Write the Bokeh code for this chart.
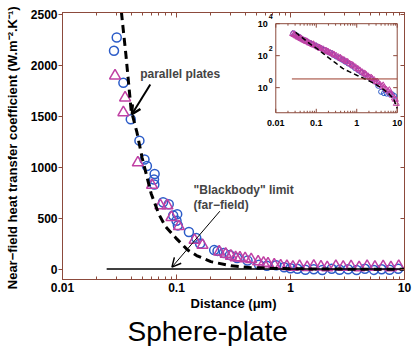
import math

from bokeh.core.properties import value
from bokeh.embed import file_html
from bokeh.models import (Arrow, CustomJSTickFormatter, FixedTicker, Label,
                          LinearAxis, LogAxis, LogScale, OpenHead, Range1d, Title)
from bokeh.plotting import figure
from bokeh.resources import INLINE

# ---------------------------------------------------------------- data
# sphere-plate measurements, main panel (distance in um, h in W m^-2 K^-1)
circ_d = [0.0283, 0.0299, 0.0342, 0.0397, 0.0473, 0.0524, 0.0550, 0.0643, 0.0635,
          0.0639, 0.0762, 0.0855, 0.0935, 0.1014, 0.100, 0.1028, 0.1285, 0.149,
          0.161, 0.214, 0.229, 0.26, 0.294, 0.34, 0.42, 0.53, 0.62, 0.75, 0.88,
          1.0, 1.15, 1.35, 1.6, 1.9, 2.3, 2.7, 3.2, 3.8, 4.5, 5.4, 6.3, 7.4, 8.8]
circ_h = [2140, 2270, 1826, 1470, 1260, 1076, 1012, 934, 880,
          830, 656, 637, 527, 540, 475, 430, 365, 307,
          252, 188, 180, 160, 139, 110, 85, 45, 35, 40, 20,
          10, 5, -5, 0, -8, 5, -5, 0, -8, 5, -6, 0, -5, 5]

tri_d = [0.0289, 0.0342, 0.0354, 0.0458, 0.061, 0.0722, 0.0832, 0.0903, 0.105,
         0.144, 0.169, 0.237, 0.27, 0.30, 0.33, 0.36, 0.40, 0.452, 0.52, 0.58,
         0.635, 0.72, 0.82, 0.93, 1.05, 1.2, 1.4, 1.6, 1.85, 2.1, 2.5, 2.9, 3.4,
         4.0, 4.7, 5.5, 6.5, 7.6, 8.9]
tri_h = [1896, 1535, 1680, 1044, 824, 624, 624, 510, 420,
         285, 236, 171, 150, 130, 115, 113, 105, 97, 75, 62,
         55, 45, 35, 30, 22, 30, 20, 32, 25, 18, 30, 22, 28,
         18, 30, 22, 28, 18, 30]

# parallel-plates prediction (dashed)
pp_d = [0.031, 0.033, 0.036, 0.04, 0.045, 0.05, 0.06, 0.07, 0.08, 0.1, 0.125, 0.15,
        0.2, 0.3, 0.45, 0.65, 1.0, 1.6, 2.6, 4.0, 6.0, 8.2, 10]
pp_h = [2900, 2500, 2100, 1560, 1340, 1090, 740, 540, 420, 300, 190, 135,
        75, 35, 16, 10, 6, 3.5, 1.9, 1.0, 0.45, 0.19, 0.05]

# blackbody (far-field) limit
BLACKBODY_H = 3.5
bb_d = [0.0244, 10]
inset_bb_d = [0.025, 10]

# inset (log-log) measurements
inset_tri_d = [0.026, 0.028, 0.029, 0.030, 0.032, 0.034, 0.036, 0.039, 0.041, 0.042,
               0.045, 0.049, 0.053, 0.057, 0.058, 0.062, 0.068, 0.075, 0.082, 0.085,
               0.09, 0.1, 0.11, 0.12, 0.125, 0.135, 0.15, 0.165, 0.18, 0.19, 0.2,
               0.22, 0.25, 0.27, 0.28, 0.31, 0.35, 0.39, 0.4, 0.43, 0.48, 0.53,
               0.57, 0.6, 0.67, 0.75, 0.8, 0.84, 0.94, 1.05, 1.1, 1.2, 1.35, 1.5,
               1.6, 1.7, 1.9, 2.1, 2.3, 2.4, 2.7, 3.0, 3.2, 3.4, 3.8, 4.3, 4.5, 4.8,
               5.4, 6.0, 6.4, 6.8, 7.6, 8.5, 9.0, 9.5]
inset_tri_h = [2350, 2050, 2200, 1900, 1700, 1600, 1400, 1300, 1250, 1150,
               1050, 920, 850, 760, 800, 700, 600, 560, 480, 520,
               440, 400, 340, 320, 290, 270, 250, 210, 200, 180, 170,
               150, 135, 120, 110, 100, 82, 75, 68, 60, 55, 45,
               42, 40, 32, 28, 25, 22, 19, 15, 14, 12, 9.5, 8,
               7.5, 6.5, 5.2, 4.4, 4.2, 3.6, 3.0, 2.3, 2.4, 2.0, 1.5, 1.2, 1.4, 1.0,
               0.75, 0.6, 0.7, 0.45, 0.32, 0.22, 0.18, 0.1]

inset_circ_d = [0.027, 0.03, 0.034, 0.038, 0.043, 0.05, 0.058, 0.068, 0.08, 0.095,
                0.11, 0.13, 0.155, 0.185, 0.22, 0.26, 0.31, 0.37, 0.44, 0.52, 0.62,
                0.75, 0.9, 1.1, 1.3, 1.6, 1.9, 2.3, 2.8, 3.4, 4.0, 4.7, 5.5, 6.5,
                7.5, 8.5]
inset_circ_h = [2500, 2100, 1750, 1450, 1150, 950, 780, 640, 520, 430,
                360, 290, 230, 185, 150, 115, 90, 70, 55, 42, 32,
                24, 17, 12, 9, 6.5, 4.8, 3.4, 2.4, 1.3, 0.55, 0.45, 0.42, 0.40,
                0.38, 0.30]

# axes
X_TICKS = [0.01, 0.1, 1, 10]
X_TICK_LABELS = ["0.01", "0.1", "1", "10"]
Y_TICKS = [0, 500, 1000, 1500, 2000, 2500]
INSET_Y_TICKS = [1, 100, 10000]
INSET_Y_EXP = ["0", "2", "4"]

# ---------------------------------------------------------------- style / layout
W, H = 412, 346
B_LEFT, B_RIGHT, B_TOP, B_BOTTOM = 62, 8, 12, 64
FRAME_W = W - B_LEFT - B_RIGHT
FRAME_H = H - B_TOP - B_BOTTOM

BROWN = "#8c4a3c"
INSET_LINE = "#9b3b2b"
BLUE = "#2c5cc8"
MAGENTA = "#c040a4"
FONT = "Liberation Sans"

# inset coordinate system spread over the whole frame (log-log)
INSET_XR = (10 ** -7.27, 10 ** 1.18)
INSET_YR = (10 ** -12.0, 10 ** 4.70)
INSET_XLIM = (0.01, 10)
INSET_YLIM = (10 ** -1.57, 1e4)
PPD_X = FRAME_W / (math.log10(INSET_XR[1]) - math.log10(INSET_XR[0]))
PPD_Y = FRAME_H / (math.log10(INSET_YR[1]) - math.log10(INSET_YR[0]))


def shift_x(v, px):
    return v * 10 ** (px / PPD_X)


def shift_y(v, px):
    return v * 10 ** (px / PPD_Y)


minor_x = [m * 10 ** e for e in (-2, -1, 0) for m in range(2, 10)]

p = figure(width=W, height=H, x_axis_type="log",
           x_range=Range1d(0.01, 10), y_range=Range1d(-100, 2515),
           output_backend="svg", toolbar_location=None,
           min_border_left=B_LEFT, min_border_right=B_RIGHT,
           min_border_top=B_TOP, min_border_bottom=B_BOTTOM,
           background_fill_color="white", border_fill_color="white")
p.title.visible = False
p.xgrid.visible = False
p.ygrid.visible = False
p.outline_line_color = BROWN
p.outline_line_width = 1

x_ticker = FixedTicker(ticks=X_TICKS, minor_ticks=minor_x)
x_fmt = CustomJSTickFormatter(
    args=dict(tick_values=X_TICKS, tick_labels=X_TICK_LABELS),
    code="const i = tick_values.findIndex(t => Math.abs(t - tick) < 1e-6 * t); "
         "return i >= 0 ? tick_labels[i] : '';")

xa = p.xaxis[0]
xa.ticker = x_ticker
xa.formatter = x_fmt
xa.axis_label = "Distance (\u03bcm)"
ya = p.yaxis[0]
ya.ticker = FixedTicker(ticks=Y_TICKS)
ya.axis_label = "Near\u2212field heat transfer  coefficient (W.m\u207b\u00b2.K\u207b\u00b9)"

for ax in (xa, ya):
    ax.axis_line_color = BROWN
    ax.major_tick_line_color = BROWN
    ax.minor_tick_line_color = BROWN
    ax.major_label_text_font = FONT
    ax.major_label_text_font_style = "bold"
    ax.major_label_text_font_size = "12px"
    ax.major_label_text_color = "black"
    ax.axis_label_text_font = FONT
    ax.axis_label_text_font_style = "bold"
    ax.axis_label_text_color = "black"

xa.major_tick_in, xa.major_tick_out = 5, 0
xa.minor_tick_in, xa.minor_tick_out = 3, 0
xa.major_label_standoff = 3
xa.axis_label_standoff = 1
xa.axis_label_text_font_size = "13px"

ya.major_tick_in, ya.major_tick_out = 0, 4
ya.minor_tick_in, ya.minor_tick_out = 0, 0
ya.major_label_standoff = 1
ya.axis_label_standoff = 8
ya.axis_label_text_font_size = "13px"

# mirrored axes on top and right: ticks only
top = LogAxis(ticker=x_ticker, major_tick_in=5, major_tick_out=0, minor_tick_in=3,
              minor_tick_out=0, major_label_text_font_size="1px",
              major_label_text_color=None, major_label_standoff=0,
              axis_line_color=BROWN, major_tick_line_color=BROWN,
              minor_tick_line_color=BROWN)
p.add_layout(top, "above")
right = LinearAxis(ticker=FixedTicker(ticks=Y_TICKS), major_tick_in=4, major_tick_out=0,
                   minor_tick_in=0, minor_tick_out=0, major_label_text_font_size="1px",
                   major_label_text_color=None, major_label_standoff=0,
                   axis_line_color=BROWN, major_tick_line_color=BROWN)
p.add_layout(right, "right")

p.add_layout(Title(text="Sphere-plate", align="left", offset=65, standoff=0,
                   text_font=FONT, text_font_style="normal", text_font_size="28px",
                   text_color="black"), "below")

# ---------------------------------------------------------------- main panel
p.scatter(circ_d, circ_h, marker="circle", size=9, fill_color=None,
          line_color=BLUE, line_width=1.5)
p.scatter(tri_d, tri_h, marker="triangle", size=11, fill_color=None,
          line_color=MAGENTA, line_width=1.5)
p.line(pp_d, pp_h, line_color="black", line_width=3, line_dash="8 5")
p.line(bb_d, [BLACKBODY_H] * len(bb_d), line_color="black", line_width=1.5)

# annotations
PP_TEXT = (0.048, 1916)
PP_ARROW = (0.0589, 1809, 0.0406, 1518)
BB_TEXT = [(0.1413, 775, '"Blackbody" limit'), (0.1413, 630, "(far\u2212field)")]
BB_ARROW = (0.240, 569, 0.0912, 21)

p.add_layout(Label(x=PP_TEXT[0], y=PP_TEXT[1], text="parallel plates",
                   text_font=FONT, text_font_style="bold", text_font_size="12px",
                   text_baseline="middle", text_align="left"))
p.add_layout(Arrow(x_start=PP_ARROW[0], y_start=PP_ARROW[1],
                   x_end=PP_ARROW[2], y_end=PP_ARROW[3], line_width=2,
                   end=OpenHead(size=9, line_width=2.5)))
for bx, by, bt in BB_TEXT:
    p.add_layout(Label(x=bx, y=by, text=bt, text_font=FONT, text_font_style="bold",
                       text_font_size="12px", text_baseline="middle", text_align="left"))
p.add_layout(Arrow(x_start=BB_ARROW[0], y_start=BB_ARROW[1],
                   x_end=BB_ARROW[2], y_end=BB_ARROW[3], line_width=1,
                   end=OpenHead(size=9, line_width=1.5)))

# ---------------------------------------------------------------- inset (log-log)
p.extra_x_ranges = {"ix": Range1d(*INSET_XR)}
p.extra_y_ranges = {"iy": Range1d(*INSET_YR)}
p.extra_x_scales = {"ix": LogScale()}
p.extra_y_scales = {"iy": LogScale()}
IN = dict(x_range_name="ix", y_range_name="iy")

p.quad(left=[INSET_XLIM[0]], right=[INSET_XLIM[1]], bottom=[INSET_YLIM[0]],
       top=[INSET_YLIM[1]], fill_color="white", line_color=BROWN, line_width=1, **IN)

# inset ticks
seg_x0, seg_y0, seg_x1, seg_y1 = [], [], [], []
for t, ln in [(t, 4) for t in X_TICKS] + [(t, 2) for t in minor_x]:
    seg_x0 += [t, t]
    seg_x1 += [t, t]
    seg_y0 += [INSET_YLIM[0], INSET_YLIM[1]]
    seg_y1 += [shift_y(INSET_YLIM[0], ln), shift_y(INSET_YLIM[1], -ln)]
for t in INSET_Y_TICKS:
    seg_y0 += [t, t]
    seg_y1 += [t, t]
    seg_x0 += [INSET_XLIM[0], INSET_XLIM[1]]
    seg_x1 += [shift_x(INSET_XLIM[0], 4), shift_x(INSET_XLIM[1], -4)]
p.segment(seg_x0, seg_y0, seg_x1, seg_y1, line_color=BROWN, line_width=1, **IN)

p.text(x=X_TICKS, y=[INSET_YLIM[0]] * len(X_TICKS), text=X_TICK_LABELS,
       text_align="center", text_baseline="top", y_offset=7,
       text_font=value(FONT), text_font_style="bold", text_font_size="9px", **IN)
p.text(x=[INSET_XLIM[0]] * len(INSET_Y_TICKS), y=INSET_Y_TICKS,
       text=["10"] * len(INSET_Y_TICKS), text_align="right", text_baseline="middle",
       x_offset=-8, text_font=value(FONT), text_font_style="bold",
       text_font_size="9px", **IN)
p.text(x=[INSET_XLIM[0]] * len(INSET_Y_TICKS), y=INSET_Y_TICKS, text=INSET_Y_EXP,
       text_align="left", text_baseline="middle", x_offset=-7, y_offset=-7,
       text_font=value(FONT), text_font_style="bold", text_font_size="7px", **IN)

p.scatter(inset_circ_d, inset_circ_h, marker="circle", size=5, fill_color=None,
          line_color=BLUE, line_width=1, **IN)
p.scatter(inset_tri_d, inset_tri_h, marker="triangle", size=6, fill_color=None,
          line_color=MAGENTA, line_width=1, **IN)
p.line(pp_d, pp_h, line_color="black", line_width=1.5, line_dash="5 3", **IN)
p.line(inset_bb_d, [BLACKBODY_H] * len(inset_bb_d), line_color=INSET_LINE,
       line_width=1, **IN)

open("out.html", "w").write(file_html(p, INLINE))
